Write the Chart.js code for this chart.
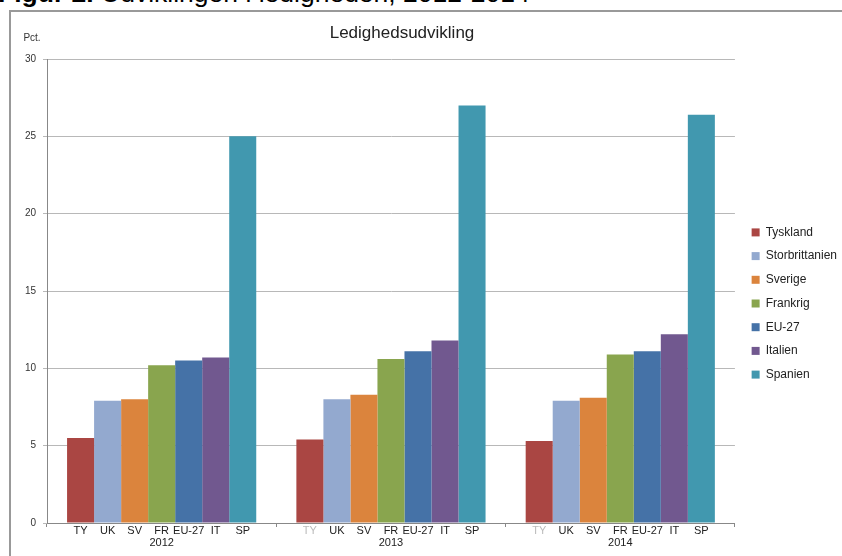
<!DOCTYPE html>
<html lang="da">
  <head>
    <title>Ledighedsudvikling 2012-2014</title>
    <meta charset="UTF-8" />
    <script src="https://cdn.jsdelivr.net/npm/chart.js@4.4.1/dist/chart.umd.min.js"></script>
    <style>
      body { margin: 0; background: #fff; overflow: hidden; }
      #heading {
        position: absolute; left: -2px; top: -20px; margin: 0;
        font: 26.5px/26px 'Liberation Sans', Arial, sans-serif; color: #000; white-space: nowrap;
      }
      #frame {
        position: absolute; left: 9px; top: 10px; width: 850px; height: 560px;
        border-left: 2px solid #999; border-top: 2px solid #999;
      }
      #wrap { position: absolute; left: 0; top: 0; width: 842px; height: 556px; }
    </style>
  </head>

  <body>
    <p id="heading"><b>Figur 2.</b> Udviklingen i ledigheden, 2012-2014</p>
    <div id="frame"></div>
    <div id="wrap"><canvas id="chart"></canvas></div>

    <script>
      const years = ['2012', '2013', '2014']
      const countries = ['Tyskland', 'Storbrittanien', 'Sverige', 'Frankrig', 'EU-27', 'Italien', 'Spanien']
      const shortNames = ['TY', 'UK', 'SV', 'FR', 'EU-27', 'IT', 'SP']
      const colors = ['#AA4643', '#93A9CF', '#DB843D', '#89A54E', '#4572A7', '#71588F', '#4198AF']

      // one array per country, values for 2012, 2013, 2014
      const tyskland = [5.5, 5.4, 5.3]
      const storbrittanien = [7.9, 8.0, 7.9]
      const sverige = [8.0, 8.3, 8.1]
      const frankrig = [10.2, 10.6, 10.9]
      const eu27 = [10.5, 11.1, 11.1]
      const italien = [10.7, 11.8, 12.2]
      const spanien = [25.0, 27.0, 26.4]
      const series = [tyskland, storbrittanien, sverige, frankrig, eu27, italien, spanien]

      const font = "'Liberation Sans', Arial, sans-serif"

      const extras = {
        id: 'extras',
        afterLayout(chart) {
          // nudge the legend a little right and up, like the original
          const lg = chart.legend
          lg.left += 5
          lg.right += 5
          lg.top -= 3
          lg.bottom -= 3
        },
        afterDraw(chart) {
          const ctx = chart.ctx
          const area = chart.chartArea
          ctx.save()
          // chart title
          ctx.fillStyle = '#222'
          ctx.font = '17px ' + font
          ctx.textAlign = 'center'
          ctx.textBaseline = 'middle'
          ctx.fillText('Ledighedsudvikling', 402, 33)
          // unit label
          ctx.font = '10px ' + font
          ctx.fillStyle = '#333'
          ctx.fillText('Pct.', 32, 38)
          // short labels under each bar
          ctx.font = '11px ' + font
          chart.data.datasets.forEach((ds, i) => {
            chart.getDatasetMeta(i).data.forEach((bar, j) => {
              ctx.fillStyle = i == 0 && j > 0 ? '#bbb' : '#222'
              ctx.fillText(shortNames[i], bar.x, area.bottom + 8)
            })
          })
          ctx.restore()
        },
      }

      new Chart(document.getElementById('chart'), {
        type: 'bar',
        data: {
          labels: years,
          datasets: countries.map((name, i) => ({
            label: name,
            data: series[i],
            backgroundColor: colors[i],
            borderWidth: 0,
            categoryPercentage: 0.825,
            barPercentage: 1,
          })),
        },
        plugins: [extras],
        options: {
          responsive: true,
          maintainAspectRatio: false,
          animation: false,
          layout: { padding: { top: 59, left: 0, right: 0, bottom: 2 } },
          scales: {
            x: {
              grid: { drawOnChartArea: false, drawTicks: true, tickLength: 4, color: '#888' },
              border: { color: '#888' },
              ticks: { color: '#222', font: { family: font, size: 11 }, padding: 9 },
              afterFit: (scale) => { scale.height = 31 },
            },
            y: {
              min: 0,
              max: 30,
              ticks: { stepSize: 5, color: '#333', font: { family: font, size: 10 }, padding: 7 },
              grid: { color: '#b8b8b8', tickLength: 4 },
              border: { color: '#888' },
              afterFit: (scale) => { scale.width = 47 },
            },
          },
          plugins: {
            title: { display: false },
            tooltip: { enabled: false },
            legend: {
              position: 'right',
              labels: {
                boxWidth: 8,
                boxHeight: 8,
                padding: 11.7,
                color: '#222',
                font: { family: font, size: 12 },
              },
            },
          },
        },
      })
    </script>
  </body>
</html>
